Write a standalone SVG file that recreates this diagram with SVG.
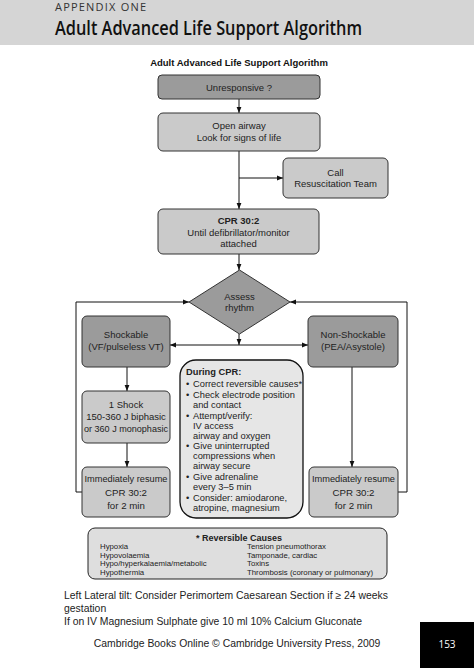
<svg xmlns="http://www.w3.org/2000/svg" width="474" height="668" viewBox="0 0 474 668">
<style>
text{font-family:"Liberation Sans",Arial,sans-serif;fill:#222}
.n{font-size:9.5px;text-anchor:middle}
.b{font-weight:bold}
.dark{fill:#9b9b9b;stroke:#333;stroke-width:1}
.light{fill:#cacaca;stroke:#333;stroke-width:1}
.c{stroke:#111;stroke-width:1;fill:none}
.cp{font-size:9.3px}
.rc{font-size:7.8px}
.ft{font-size:10.4px}
.ir{font-size:9.7px;text-anchor:middle}
</style>
<defs>
<marker id="ah" viewBox="0 0 10 10" refX="10" refY="5" markerWidth="6" markerHeight="6" orient="auto" markerUnits="userSpaceOnUse">
<path d="M0,1 L10,5 L0,9 z" fill="#111"/>
</marker>
</defs>
<rect x="0" y="0" width="474" height="45" fill="#d5d5d5"/>
<text x="55" y="11" style="font-family:'Open Sans',sans-serif;font-size:11px;letter-spacing:1.2px;fill:#333">APPENDIX ONE</text>
<text x="55" y="35" textLength="307" lengthAdjust="spacingAndGlyphs" style="font-family:'Open Sans',sans-serif;font-size:19px;font-weight:600;fill:#111">Adult Advanced Life Support Algorithm</text>
<text x="239" y="66" class="n b" style="font-size:9.5px;fill:#111">Adult Advanced Life Support Algorithm</text>

<g id="connectors">
<line class="c" x1="239" y1="99" x2="239" y2="113" marker-end="url(#ah)"/>
<line class="c" x1="239" y1="151" x2="239" y2="209" marker-end="url(#ah)"/>
<line class="c" x1="239" y1="178" x2="283" y2="178" marker-end="url(#ah)"/>
<line class="c" x1="239" y1="254" x2="239" y2="270" marker-end="url(#ah)"/>
<polyline class="c" points="82,492 76,492 76,302 189,302" marker-end="url(#ah)"/>
<polyline class="c" points="398,492 407,492 407,302 290,302" marker-end="url(#ah)"/>
<line class="c" x1="239" y1="334" x2="239" y2="345" marker-end="url(#ah)"/>
<line class="c" x1="239" y1="345" x2="170" y2="345" marker-end="url(#ah)"/>
<line class="c" x1="239" y1="345" x2="308" y2="345" marker-end="url(#ah)"/>
<line class="c" x1="127" y1="367" x2="127" y2="391" marker-end="url(#ah)"/>
<line class="c" x1="127" y1="443" x2="127" y2="467" marker-end="url(#ah)"/>
<line class="c" x1="352" y1="367" x2="352" y2="467" marker-end="url(#ah)"/>
</g>

<g id="unresponsive">
<rect class="dark" x="158" y="75" width="162" height="24" rx="4"/>
<text class="n" x="239" y="91">Unresponsive ?</text>
</g>
<g id="open-airway">
<rect class="light" x="158" y="113" width="162" height="38" rx="5"/>
<text class="n" x="239" y="129">Open airway</text>
<text class="n" x="239" y="141">Look for signs of life</text>
</g>
<g id="call-team">
<rect class="light" x="283" y="158" width="105" height="40" rx="5"/>
<text class="n" x="335.5" y="176">Call</text>
<text class="n" x="335.5" y="187">Resuscitation Team</text>
</g>
<g id="cpr">
<rect class="light" x="158" y="209" width="161" height="45" rx="5"/>
<text class="n b" x="238.5" y="224">CPR 30:2</text>
<text class="n" x="238.5" y="236">Until defibrillator/monitor</text>
<text class="n" x="238.5" y="247">attached</text>
</g>
<g id="assess">
<polygon class="dark" points="239.5,270 290,302 239.5,334 189,302"/>
<text class="n" x="239.5" y="300">Assess</text>
<text class="n" x="239.5" y="311">rhythm</text>
</g>
<g id="shockable">
<rect class="dark" x="82" y="316" width="88" height="51" rx="5"/>
<text class="n" x="126" y="338">Shockable</text>
<text class="n" x="126" y="350">(VF/pulseless VT)</text>
</g>
<g id="non-shockable">
<rect class="dark" x="308" y="316" width="90" height="51" rx="5"/>
<text class="n" x="353" y="338">Non-Shockable</text>
<text class="n" x="353" y="350">(PEA/Asystole)</text>
</g>
<g id="shock">
<rect class="light" x="82" y="391" width="88" height="52" rx="5"/>
<text class="n" x="126" y="408">1 Shock</text>
<text class="n" x="126" y="420">150-360 J biphasic</text>
<text class="n" x="126" y="432" textLength="84" lengthAdjust="spacingAndGlyphs">or 360 J monophasic</text>
</g>
<g id="resume-left">
<rect class="light" x="82" y="467" width="88" height="50" rx="5"/>
<text class="ir" x="126" y="482" textLength="83" lengthAdjust="spacingAndGlyphs">Immediately resume</text>
<text class="ir" x="126" y="496">CPR 30:2</text>
<text class="ir" x="126" y="509">for 2 min</text>
</g>
<g id="resume-right">
<rect class="light" x="309" y="467" width="89" height="50" rx="5"/>
<text class="ir" x="353.5" y="482" textLength="83" lengthAdjust="spacingAndGlyphs">Immediately resume</text>
<text class="ir" x="353.5" y="496">CPR 30:2</text>
<text class="ir" x="353.5" y="509">for 2 min</text>
</g>
<g id="during-cpr">
<rect x="180" y="360" width="123" height="158" rx="16" fill="#e6e6e6" stroke="#111" stroke-width="1.3"/>
<text class="cp b" x="186" y="375">During CPR:</text>
<text class="cp" x="186" y="387">•</text><text class="cp" x="193" y="387">Correct reversible causes*</text>
<text class="cp" x="186" y="398">•</text><text class="cp" x="193" y="398">Check electrode position</text>
<text class="cp" x="193" y="408">and contact</text>
<text class="cp" x="186" y="419">•</text><text class="cp" x="193" y="419">Attempt/verify:</text>
<text class="cp" x="193" y="429">IV access</text>
<text class="cp" x="193" y="439">airway and oxygen</text>
<text class="cp" x="186" y="449">•</text><text class="cp" x="193" y="449">Give uninterrupted</text>
<text class="cp" x="193" y="459">compressions when</text>
<text class="cp" x="193" y="469">airway secure</text>
<text class="cp" x="186" y="480">•</text><text class="cp" x="193" y="480">Give adrenaline</text>
<text class="cp" x="193" y="490">every 3–5 min</text>
<text class="cp" x="186" y="501">•</text><text class="cp" x="193" y="501">Consider: amiodarone,</text>
<text class="cp" x="193" y="511">atropine, magnesium</text>
</g>
<g id="reversible-causes">
<rect x="88" y="528" width="299" height="51" rx="7" fill="#dedede" stroke="#222" stroke-width="1"/>
<text class="n b" x="239" y="541" style="font-size:9px">* Reversible Causes</text>
<text class="rc" x="100" y="549">Hypoxia</text>
<text class="rc" x="100" y="557.5">Hypovolaemia</text>
<text class="rc" x="100" y="566">Hypo/hyperkalaemia/metabolic</text>
<text class="rc" x="100" y="574.5">Hypothermia</text>
<text class="rc" x="247" y="549">Tension pneumothorax</text>
<text class="rc" x="247" y="557.5">Tamponade, cardiac</text>
<text class="rc" x="247" y="566">Toxins</text>
<text class="rc" x="247" y="574.5">Thrombosis (coronary or pulmonary)</text>
</g>
<text class="ft" x="64" y="599">Left Lateral tilt: Consider Perimortem Caesarean Section if ≥ 24 weeks</text>
<text class="ft" x="64" y="612">gestation</text>
<text class="ft" x="64" y="625">If on IV Magnesium Sulphate give 10 ml 10% Calcium Gluconate</text>
<text class="ft" x="237" y="647" text-anchor="middle">Cambridge Books Online © Cambridge University Press, 2009</text>
<rect x="420" y="622" width="54" height="46" fill="#000"/>
<text x="447" y="648" text-anchor="middle" style="font-family:'Open Sans',sans-serif;font-size:10px;fill:#fff">153</text>
</svg>
